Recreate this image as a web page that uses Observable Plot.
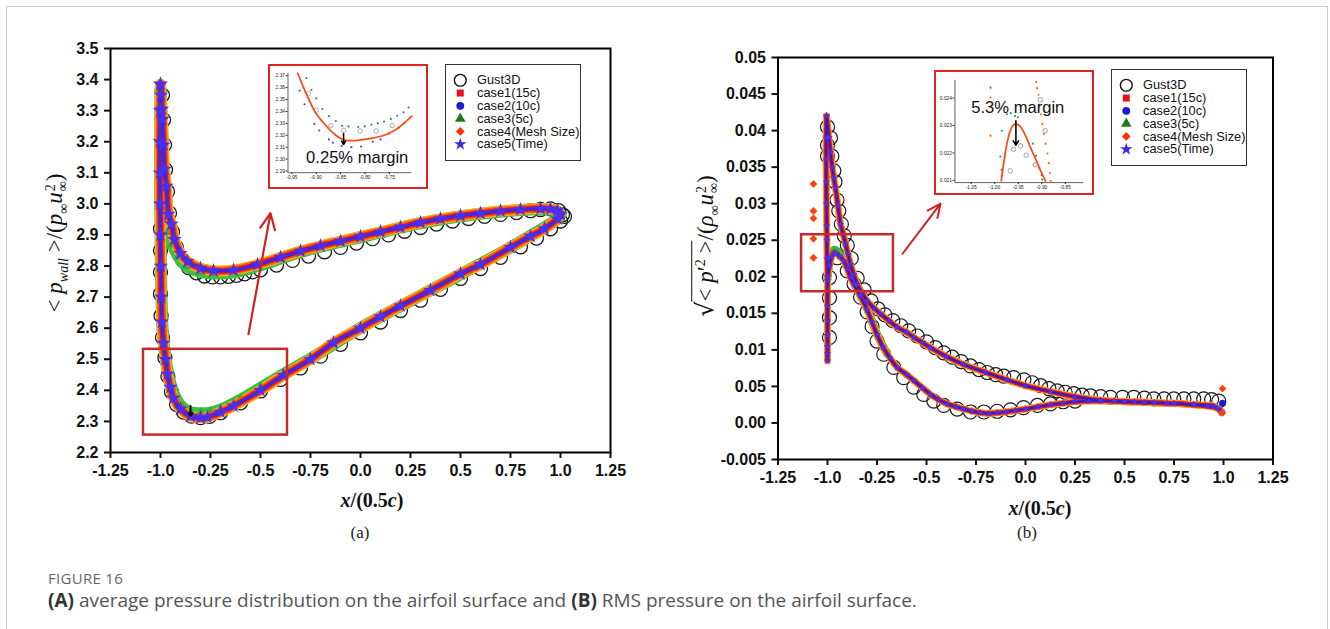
<!DOCTYPE html>
<html><head><meta charset="utf-8">
<script src="https://cdn.jsdelivr.net/npm/d3@7"></script>
<script src="https://cdn.jsdelivr.net/npm/@observablehq/plot@0.6"></script>
<style>
body{margin:0;background:#fff;}
#root{position:relative;width:1330px;height:629px;overflow:hidden;background:#fff;font-family:"Liberation Sans",Arial,sans-serif;}
.border{position:absolute;left:6px;top:6px;width:1322px;height:700px;border:1px solid #cfcfcf;box-sizing:border-box;}
.ylab{position:absolute;white-space:nowrap;transform:translate(-50%,-50%) rotate(-90deg);font-family:"Liberation Serif",serif;font-size:23px;color:#111;}
.xlab{position:absolute;white-space:nowrap;transform:translate(-50%,-50%);font-family:"Liberation Serif",serif;font-size:20px;font-weight:bold;color:#111;}
.plab{position:absolute;white-space:nowrap;transform:translate(-50%,-50%);font-family:"Liberation Serif",serif;font-size:17px;color:#222;}
.stk{display:inline-flex;flex-direction:column;vertical-align:middle;font-size:14px;line-height:12px;margin-left:1px;}
sub,sup{font-size:14px;}
.inset{position:absolute;border:2.5px solid #e02424;background:#fff;box-sizing:border-box;}
.legend{position:absolute;border:1.3px solid #333;background:#fff;box-sizing:border-box;}
.cap1{position:absolute;transform:translateY(-50%);font-family:"Open Sans",sans-serif;font-size:15px;color:#666;letter-spacing:0.3px;white-space:nowrap;}
.cap2{position:absolute;transform:translateY(-50%);font-family:"Open Sans",sans-serif;font-size:19px;color:#555;white-space:nowrap;}
.cap2 b{color:#333;}
</style></head><body><div id="root"></div>
<script>
// ---------- tick values / labels ----------
const xTicks = [-1.25,-1,-0.75,-0.5,-0.25,0,0.25,0.5,0.75,1,1.25];
const xTickLabels = ["-1.25","-1.0","-0.25","-0.5","-0.75","0.0","0.25","0.5","0.75","1.0","1.25"];
const aYTicks = [2.2,2.3,2.4,2.5,2.6,2.7,2.8,2.9,3.0,3.1,3.2,3.3,3.4,3.5];
const aYTickLabels = ["2.2","2.3","2.4","2.5","2.6","2.7","2.8","2.9","3.0","3.1","3.2","3.3","3.4","3.5"];
const bYTicks = [-0.005,0,0.005,0.01,0.015,0.02,0.025,0.03,0.035,0.04,0.045,0.05];
const bYTickLabels = ["-0.005","0.00","0.05","0.01","0.015","0.02","0.025","0.03","0.035","0.04","0.045","0.05"];

// ---------- legend ----------
const legendLabels = ["Gust3D","case1(15c)","case2(10c)","case3(5c)","case4(Mesh Size)","case5(Time)"];
const legendSymbols = ["circle","square","circle","triangle","diamond2","star"];
const legendColors = ["#111111","#e8101a","#1c1cd0","#1a7a1a","#ff3300","#3c2ee6"];

// ---------- panel (a): mean wall pressure ----------
// simulated cases 1,2,4,5 (read values; visually coincident)
const A_up_x = [-1.0,-0.997,-0.993,-0.99,-0.985,-0.98,-0.97,-0.96,-0.945,-0.93,-0.9,-0.865,-0.8,-0.735,-0.635,-0.515,-0.4,-0.3,-0.2,-0.1,0,0.1,0.2,0.3,0.4,0.5,0.6,0.7,0.8,0.9,0.95,0.985,1.0];
const A_up_y = [3.385,3.35,3.305,3.272,3.19,3.112,3.057,2.967,2.935,2.886,2.841,2.815,2.793,2.785,2.787,2.805,2.828,2.848,2.865,2.88,2.895,2.91,2.925,2.94,2.952,2.962,2.97,2.977,2.982,2.985,2.984,2.978,2.968];
const A_lo_x = [-1.0,-1.002,-1.003,-1.003,-1.002,-1.0,-0.998,-0.996,-0.993,-0.985,-0.975,-0.965,-0.95,-0.935,-0.9,-0.85,-0.8,-0.765,-0.7,-0.635,-0.5,-0.385,-0.25,-0.135,0,0.1,0.2,0.35,0.5,0.6,0.75,0.85,0.92,0.985,1.0];
const A_lo_y = [3.385,3.3,3.2,3.1,3.0,2.9,2.8,2.7,2.62,2.552,2.5,2.452,2.41,2.375,2.34,2.317,2.312,2.314,2.33,2.35,2.4,2.448,2.5,2.553,2.6,2.637,2.672,2.722,2.775,2.805,2.86,2.896,2.92,2.952,2.965];
// case3 (5c)
const A_c3_up_x = [-1.0,-0.995,-0.99,-0.985,-0.98,-0.975,-0.96,-0.94,-0.91,-0.87,-0.8,-0.735,-0.635,-0.515,-0.4,-0.3,-0.1,0.1,0.3,0.5,0.7,0.9,0.985,1.0];
const A_c3_up_y = [3.37,3.3,3.2,3.1,3.0,2.95,2.91,2.87,2.83,2.8,2.782,2.776,2.78,2.8,2.824,2.845,2.878,2.908,2.938,2.96,2.975,2.983,2.976,2.966];
const A_c3_lo_x = [-1.0,-1.002,-1.002,-1.0,-0.998,-0.995,-0.99,-0.98,-0.965,-0.945,-0.92,-0.89,-0.85,-0.8,-0.75,-0.7,-0.6,-0.5,-0.385,-0.25,0,0.35,0.75,0.985,1.0];
const A_c3_lo_y = [3.37,3.2,3.0,2.95,2.8,2.7,2.6,2.53,2.465,2.41,2.37,2.345,2.33,2.326,2.328,2.338,2.37,2.408,2.452,2.502,2.601,2.722,2.86,2.952,2.965];
// Gust3D
const A_gust_x = [-0.99,-0.985,-0.98,-0.975,-0.965,-0.955,-0.94,-0.92,-0.89,-0.86,-0.82,-0.78,-0.74,-0.7,-0.66,-0.62,-0.58,-0.54,-0.5,-0.42,-0.34,-0.26,-0.18,-0.1,-0.02,0.06,0.14,0.22,0.3,0.38,0.46,0.54,0.62,0.7,0.78,0.85,0.9,0.95,0.99,1.01,
  -1.0,-1.0,-1.0,-1.0,-0.997,-0.99,-0.978,-0.963,-0.945,-0.92,-0.885,-0.845,-0.8,-0.755,-0.7,-0.6,-0.5,-0.4,-0.3,-0.2,-0.1,0,0.1,0.2,0.3,0.4,0.5,0.6,0.7,0.8,0.88,0.95,1.0,1.02];
const A_gust_y = [3.35,3.27,3.19,3.11,3.04,2.97,2.91,2.86,2.82,2.795,2.778,2.768,2.765,2.765,2.767,2.77,2.775,2.781,2.788,2.803,2.818,2.832,2.846,2.86,2.874,2.888,2.9,2.912,2.924,2.935,2.945,2.953,2.96,2.966,2.972,2.978,2.982,2.984,2.978,2.965,
  2.92,2.85,2.78,2.71,2.64,2.57,2.505,2.445,2.395,2.355,2.33,2.317,2.312,2.316,2.328,2.36,2.398,2.435,2.472,2.51,2.548,2.585,2.62,2.657,2.69,2.725,2.76,2.792,2.828,2.862,2.89,2.92,2.945,2.96];
// annotations (a)
const A_boxX = [-1.085,-0.365], A_boxY = [2.256,2.532];
const A_arrowX = [-0.56,-0.45], A_arrowY = [2.581,2.97];
const A_markX = [-0.85,-0.85], A_markY = [2.35,2.318];

// inset (a)
const Ai_xTicks = [-0.95,-0.90,-0.85,-0.80,-0.75];
const Ai_xLabels = ["-0.95","-0.90","-0.85","-0.80","-0.75"];
const Ai_yTicks = [2.29,2.30,2.31,2.32,2.33,2.34,2.35,2.36,2.37];
const Ai_c4_x = [-0.938,-0.926,-0.914,-0.9,-0.88,-0.86,-0.843,-0.82,-0.794,-0.76,-0.734,-0.704];
const Ai_c4_y = [2.372,2.36,2.349,2.338,2.328,2.32,2.316,2.3155,2.317,2.32,2.3255,2.336];
const Ai_c3_x = [-0.92,-0.91,-0.9,-0.887,-0.874,-0.86,-0.847,-0.834,-0.814,-0.8006,-0.787,-0.774,-0.761,-0.747,-0.734,-0.721,-0.7106];
const Ai_c3_y = [2.368,2.358,2.351,2.342,2.336,2.332,2.328,2.3274,2.3269,2.3274,2.3288,2.330,2.3315,2.3337,2.3364,2.3392,2.3433];
const Ai_c5_x = [-0.934,-0.924,-0.904,-0.894,-0.874,-0.866,-0.848,-0.828,-0.808,-0.784,-0.768,-0.751,-0.731,-0.721];
const Ai_c5_y = [2.3575,2.346,2.3296,2.324,2.3165,2.3138,2.311,2.310,2.3105,2.3146,2.3165,2.3214,2.3263,2.3296];
const Ai_g_x = [-0.916,-0.9,-0.87,-0.844,-0.81,-0.777,-0.744];
const Ai_g_y = [2.3548,2.341,2.3282,2.3241,2.3236,2.3236,2.3282];
const Ai_arrowX = [-0.844,-0.844], Ai_arrowY = [2.3215,2.3122];
const Ai_textXY = [-0.816,2.3009];

// ---------- panel (b): RMS wall pressure ----------
const B_up_x = [-1.005,-0.993,-0.985,-0.976,-0.968,-0.96,-0.947,-0.934,-0.92,-0.909,-0.896,-0.884,-0.867,-0.85,-0.825,-0.8,-0.765,-0.732,-0.69,-0.648,-0.6,-0.564,-0.52,-0.48,-0.4,-0.312,-0.2,-0.092,0,0.126,0.25,0.379,0.5,0.6,0.716,0.85,0.951,0.99];
const B_up_y = [0.042,0.0391,0.037,0.035,0.0335,0.0322,0.0297,0.0272,0.0258,0.0245,0.0231,0.0217,0.0203,0.019,0.0178,0.0167,0.0157,0.0149,0.014,0.0131,0.0124,0.0117,0.011,0.0103,0.0091,0.008,0.0069,0.0059,0.0051,0.0043,0.0036,0.0031,0.0029,0.0028,0.0027,0.0025,0.0023,0.0016];
const B_col_x = [-1.005,-1.007,-1.007,-1.006,-1.005,-1.004,-1.003,-1.002,-1.0,-1.0,-1.0,-1.0,-1.0,-1.0,-1.0,-1.0];
const B_col_y = [0.042,0.039,0.036,0.033,0.03,0.027,0.025,0.0225,0.02,0.018,0.016,0.014,0.012,0.0105,0.0095,0.0085];
const B_lo_x = [-1.0,-0.99,-0.98,-0.968,-0.955,-0.94,-0.918,-0.9,-0.884,-0.867,-0.835,-0.8,-0.775,-0.75,-0.72,-0.685,-0.648,-0.6,-0.564,-0.52,-0.48,-0.44,-0.395,-0.35,-0.312,-0.27,-0.227,-0.185,-0.143,-0.1,-0.05,0,0.06,0.126,0.19,0.25,0.32,0.379,0.45,0.55,0.65,0.75,0.85,0.92,0.97,0.99];
const B_lo_y = [0.0195,0.0215,0.0227,0.0233,0.0232,0.0228,0.0222,0.0211,0.0199,0.019,0.0174,0.0155,0.0138,0.0121,0.0104,0.0089,0.0076,0.0066,0.0058,0.0048,0.0039,0.0032,0.0026,0.0022,0.0019,0.0016,0.0014,0.0013,0.0014,0.0015,0.0017,0.0019,0.0022,0.0025,0.0027,0.0029,0.003,0.003,0.003,0.0029,0.0028,0.0027,0.0025,0.0023,0.002,0.0014];
const B_c3_lo_x = [-1.0,-0.99,-0.978,-0.965,-0.95,-0.93,-0.905,-0.88,-0.85,-0.8,-0.75,-0.7];
const B_c3_lo_y = [0.0197,0.0219,0.0232,0.0237,0.0235,0.0229,0.0217,0.0201,0.0183,0.0156,0.0122,0.0095];
const B_c4_out_x = [-1.071,-1.071,-1.071,-1.071,-1.071,0.995,0.995];
const B_c4_out_y = [0.0327,0.029,0.028,0.0252,0.0226,0.0047,0.0014];
const B_c2_out_x = [0.995], B_c2_out_y = [0.0027];
const B_gust_x = [-1.0,-1.0,-1.0,-0.985,-0.978,-0.968,-0.962,-0.952,-0.943,-0.93,-0.915,-0.9,-0.99,-0.99,-0.99,-0.99,
  -0.95,-0.9,-0.866,-0.833,-0.8,-0.775,-0.75,-0.716,-0.665,-0.615,-0.564,-0.514,-0.463,-0.413,-0.345,-0.278,-0.21,-0.143,-0.076,-0.01,0.06,0.126,0.19,0.25,
  -0.88,-0.85,-0.815,-0.78,-0.745,-0.71,-0.67,-0.63,-0.59,-0.547,-0.5,-0.455,-0.413,-0.37,-0.325,-0.278,-0.235,-0.193,-0.15,-0.11,-0.06,-0.008,0.034,0.076,0.118,0.16,0.2,0.244,0.286,0.328,0.38,0.429,0.49,0.547,0.6,0.648,0.7,0.749,0.8,0.85,0.9,0.94,0.976];
const B_gust_y = [0.0405,0.038,0.0365,0.039,0.0365,0.0345,0.033,0.0305,0.029,0.0272,0.0256,0.0243,0.0199,0.0171,0.0144,0.0117,
  0.0226,0.0208,0.019,0.0172,0.0152,0.0132,0.0112,0.0094,0.0076,0.0062,0.0049,0.0039,0.003,0.0024,0.0019,0.0015,0.0015,0.0016,0.0018,0.0021,0.0024,0.0026,0.0029,0.003,
  0.0225,0.0198,0.0182,0.0167,0.0156,0.0148,0.014,0.0133,0.0126,0.0119,0.0111,0.0103,0.0096,0.009,0.0084,0.0078,0.0073,0.0069,0.0066,0.0064,0.0062,0.0059,0.0055,0.0051,0.0047,0.0044,0.0042,0.004,0.0038,0.0037,0.0036,0.0035,0.0035,0.0035,0.0034,0.0033,0.0033,0.0033,0.0033,0.0033,0.0033,0.0032,0.003];
const B_boxX = [-1.131,-0.667], B_boxY = [0.01795,0.02575];
const B_arrowX = [-0.621,-0.429], B_arrowY = [0.02315,0.030];

// inset (b)
const Bi_xTicks = [-1.05,-1.00,-0.95,-0.90,-0.85];
const Bi_xLabels = ["-1.05","-1.00","-0.95","-0.90","-0.85"];
const Bi_yTicks = [0.021,0.022,0.023,0.024];
const Bi_c4_x = [-0.986,-0.981,-0.974,-0.967,-0.962,-0.957,-0.952,-0.947,-0.936,-0.923,-0.912,-0.902,-0.892];
const Bi_c4_y = [0.02098,0.02163,0.02234,0.02281,0.02298,0.02305,0.02304,0.02299,0.02269,0.02216,0.02174,0.02133,0.02098];
const Bi_c4b_x = [-0.912,-0.910,-0.907,-0.905,-0.902,-0.899,-0.895,-0.892,-0.888,-0.885,-0.883,-0.881];
const Bi_c4b_y = [0.02459,0.02436,0.02412,0.02376,0.02341,0.02305,0.02269,0.02234,0.02198,0.02163,0.02127,0.02098];
const Bi_c3_x = [-1.009,-0.974,-0.966,-0.957,-0.951,-0.985,-0.988,-0.919,-0.912,-0.905,-0.899];
const Bi_c3_y = [0.02438,0.02341,0.02345,0.02335,0.0233,0.02281,0.02187,0.02234,0.0219,0.02145,0.02103];
const Bi_c4o_x = [-1.009,-1.009], Bi_c4o_y = [0.02402,0.02263];
const Bi_c5_x = [-0.985,-0.985,-0.9], Bi_c5_y = [0.02139,0.02117,0.0212];
const Bi_g_x = [-0.967,-0.96,-0.945,-0.933,-0.914,-0.903,-0.893];
const Bi_g_y = [0.02135,0.02213,0.02226,0.02192,0.02157,0.02394,0.02281];
const Bi_arrowX = [-0.955,-0.955], Bi_arrowY = [0.02317,0.02228];
const Bi_textXY = [-0.951,0.02364];

// ---------- helpers ----------
const pts = (xs, ys) => xs.map((x, i) => ({x, y: ys[i]}));
const fmt = (ticks, labels) => d => { const i = ticks.findIndex(t => Math.abs(t - d) < 1e-9); return i < 0 ? "" : labels[i]; };
const root = document.getElementById("root");
function place(el, left, top) { el.style.position = "absolute"; el.style.left = left + "px"; el.style.top = top + "px"; root.appendChild(el); return el; }
function html(cls, left, top, inner) { const d = document.createElement("div"); d.className = cls; d.style.left = left + "px"; d.style.top = top + "px"; d.innerHTML = inner; root.appendChild(d); return d; }

const axisStyle = {fontFamily: "'Liberation Sans', Arial, sans-serif", fontSize: "16px", fontWeight: "bold", color: "#111", background: "transparent", overflow: "visible"};

function bandMarks(branches, c3branches, w, extra) {
  const marks = [];
  for (const b of c3branches) marks.push(Plot.line(b, {x: "x", y: "y", stroke: "#3cc040", strokeWidth: w + 1, curve: "catmull-rom"}));
  for (const b of branches) marks.push(Plot.line(b, {x: "x", y: "y", stroke: extra.halo, strokeWidth: w, curve: "catmull-rom"}));
  for (const b of c3branches) marks.push(Plot.dot(b, {x: "x", y: "y", symbol: "triangle", fill: "#2fae35", r: w * 0.36}));
  for (const b of branches) marks.push(Plot.line(b, {x: "x", y: "y", stroke: "#ff5a14", strokeWidth: w - 2.5, curve: "catmull-rom"}));
  for (const b of branches) marks.push(Plot.dot(b, {x: "x", y: "y", symbol: "diamond2", fill: "#ff5010", r: w * 0.42}));
  for (const b of branches) marks.push(Plot.line(b, {x: "x", y: "y", stroke: "#e3141c", strokeWidth: w * extra.red, curve: "catmull-rom"}));
  for (const b of branches) marks.push(Plot.dot(b, {x: "x", y: "y", symbol: "square", fill: "#e3141c", r: w * 0.22}));
  for (const b of branches) marks.push(Plot.line(b, {x: "x", y: "y", stroke: extra.blue, strokeWidth: w * extra.blueW, curve: "catmull-rom"}));
  for (const b of branches) marks.push(Plot.dot(b, {x: "x", y: "y", fill: "#1c1cd0", r: w * 0.24}));
  for (const b of branches) marks.push(Plot.dot(b, {x: "x", y: "y", symbol: "star", fill: "#4a30ee", r: w * extra.star}));
  return marks;
}

// ---------- border ----------
const bd = document.createElement("div"); bd.className = "border"; root.appendChild(bd);

// ---------- panel (a) ----------
const A_up = pts(A_up_x, A_up_y), A_lo = pts(A_lo_x, A_lo_y);
const A_c3 = [pts(A_c3_up_x, A_c3_up_y), pts(A_c3_lo_x, A_c3_lo_y)];
const plotA = Plot.plot({
  width: 640, height: 480, marginLeft: 110, marginRight: 30, marginTop: 48, marginBottom: 28,
  style: axisStyle,
  x: {domain: [-1.25, 1.25]}, y: {domain: [2.2, 3.5]},
  marks: [
    Plot.dot(pts(A_gust_x, A_gust_y), {x: "x", y: "y", r: 7, stroke: "#1a1a1a", strokeWidth: 1.3, fill: "none"}),
    ...bandMarks([A_up, A_lo], A_c3, 11, {halo: "#ffae1a", blue: "#3a2ae8", blueW: 0.3, red: 0.5, star: 0.42}),
    Plot.arrow([{}], {x1: () => A_markX[0], x2: () => A_markX[1], y1: () => A_markY[0], y2: () => A_markY[1], stroke: "#111", strokeWidth: 2, headLength: 6, headAngle: 70}),
    Plot.rect([{}], {x1: () => A_boxX[0], x2: () => A_boxX[1], y1: () => A_boxY[0], y2: () => A_boxY[1], fill: "none", stroke: "#c62a2a", strokeWidth: 2.5}),
    Plot.arrow([{}], {x1: () => A_arrowX[0], x2: () => A_arrowX[1], y1: () => A_arrowY[0], y2: () => A_arrowY[1], stroke: "#d42020", strokeWidth: 2.2, headLength: 12, headAngle: 50}),
    Plot.frame({stroke: "#000", strokeWidth: 2}),
    Plot.axisX(xTicks, {tickFormat: fmt(xTicks, xTickLabels), tickSize: 6, tickPadding: 6, strokeWidth: 2, label: null}),
    Plot.axisY(aYTicks, {tickFormat: fmt(aYTicks, aYTickLabels), tickSize: 6, tickPadding: 6, strokeWidth: 2, label: null})
  ]
});
place(plotA, 0, 0);

// ---------- panel (b) ----------
const B_up = pts(B_up_x, B_up_y), B_col = pts(B_col_x, B_col_y), B_lo = pts(B_lo_x, B_lo_y);
const plotB = Plot.plot({
  width: 640, height: 487, marginLeft: 117.5, marginRight: 27.5, marginTop: 57, marginBottom: 28,
  style: axisStyle,
  x: {domain: [-1.25, 1.25]}, y: {domain: [-0.005, 0.05]},
  marks: [
    Plot.dot(pts(B_gust_x, B_gust_y), {x: "x", y: "y", r: 7, stroke: "#1a1a1a", strokeWidth: 1.2, fill: "none"}),
    ...bandMarks([B_up, B_col, B_lo], [pts(B_c3_lo_x, B_c3_lo_y)], 7, {halo: "#ff9a24", blue: "#2020d8", blueW: 0.3, red: 0.65, star: 0.34}),
    Plot.dot(pts(B_c4_out_x, B_c4_out_y), {x: "x", y: "y", symbol: "diamond2", fill: "#ff4010", r: 3.5}),
    Plot.dot(pts(B_c2_out_x, B_c2_out_y), {x: "x", y: "y", fill: "#1c1cd0", r: 3.5}),
    Plot.rect([{}], {x1: () => B_boxX[0], x2: () => B_boxX[1], y1: () => B_boxY[0], y2: () => B_boxY[1], fill: "none", stroke: "#c62a2a", strokeWidth: 2.5}),
    Plot.arrow([{}], {x1: () => B_arrowX[0], x2: () => B_arrowX[1], y1: () => B_arrowY[0], y2: () => B_arrowY[1], stroke: "#d42020", strokeWidth: 2, headLength: 11, headAngle: 50}),
    Plot.frame({stroke: "#000", strokeWidth: 2}),
    Plot.axisX(xTicks, {tickFormat: fmt(xTicks, xTickLabels), tickSize: 6, tickPadding: 6, strokeWidth: 2, label: null}),
    Plot.axisY(bYTicks, {tickFormat: fmt(bYTicks, bYTickLabels), tickSize: 6, tickPadding: 6, strokeWidth: 2, label: null})
  ]
});
place(plotB, 660, 0);

// ---------- insets ----------
const insetStyle = {fontFamily: "'Liberation Sans', Arial, sans-serif", fontSize: "5px", color: "#222", background: "transparent", overflow: "visible"};
function insetBox(left, top, plot) {
  const box = document.createElement("div"); box.className = "inset";
  box.style.left = left + "px"; box.style.top = top + "px"; box.style.width = "160px"; box.style.height = "125px";
  plot.style.position = "absolute"; plot.style.left = "-2.5px"; plot.style.top = "-2.5px";
  box.appendChild(plot); root.appendChild(box);
}
const insetA = Plot.plot({
  width: 160, height: 125, marginLeft: 20, marginRight: 13, marginTop: 9, marginBottom: 14,
  style: insetStyle,
  x: {domain: [-0.958, -0.704]}, y: {domain: [2.2886, 2.372]},
  marks: [
    Plot.ruleX([-0.958], {stroke: "#333", strokeWidth: 0.8}),
    Plot.ruleY([2.2886], {stroke: "#333", strokeWidth: 0.8}),
    Plot.axisX(Ai_xTicks, {tickFormat: fmt(Ai_xTicks, Ai_xLabels), tickSize: 2, tickPadding: 1, label: null}),
    Plot.axisY(Ai_yTicks, {tickFormat: d => d.toFixed(2), tickSize: 2, tickPadding: 1, label: null}),
    Plot.dot(pts(Ai_g_x, Ai_g_y), {x: "x", y: "y", r: 2.3, stroke: "#999", strokeWidth: 0.8, fill: "none"}),
    Plot.dot(pts(Ai_c3_x, Ai_c3_y), {x: "x", y: "y", r: 1.1, fill: "#2a8a5a"}),
    Plot.dot(pts(Ai_c5_x, Ai_c5_y), {x: "x", y: "y", r: 1.1, fill: "#6a3ac0"}),
    Plot.line(pts(Ai_c4_x, Ai_c4_y), {x: "x", y: "y", stroke: "#ff4a10", strokeWidth: 1.8, curve: "catmull-rom"}),
    Plot.arrow([{}], {x1: () => Ai_arrowX[0], x2: () => Ai_arrowX[1], y1: () => Ai_arrowY[0], y2: () => Ai_arrowY[1], stroke: "#000", strokeWidth: 1.6, headLength: 5, headAngle: 60}),
    Plot.text(["0.25% margin"], {x: () => Ai_textXY[0], y: () => Ai_textXY[1], text: d => d, fontSize: 17, fill: "#111", fontFamily: "'Liberation Sans', Arial, sans-serif"})
  ]
});
insetBox(268, 64, insetA);

const insetB = Plot.plot({
  width: 160, height: 125, marginLeft: 21, marginRight: 7, marginTop: 10, marginBottom: 10,
  style: insetStyle,
  x: {domain: [-1.0845, -0.811]}, y: {domain: [0.02092, 0.02465]},
  marks: [
    Plot.ruleX([-1.0845], {stroke: "#333", strokeWidth: 0.8}),
    Plot.ruleY([0.02092], {stroke: "#333", strokeWidth: 0.8}),
    Plot.axisX(Bi_xTicks, {tickFormat: fmt(Bi_xTicks, Bi_xLabels), tickSize: 2, tickPadding: 1, label: null}),
    Plot.axisY(Bi_yTicks, {tickFormat: d => d.toFixed(3), tickSize: 2, tickPadding: 1, label: null}),
    Plot.dot(pts(Bi_g_x, Bi_g_y), {x: "x", y: "y", r: 2.3, stroke: "#888", strokeWidth: 0.8, fill: "none"}),
    Plot.dot(pts(Bi_c3_x, Bi_c3_y), {x: "x", y: "y", r: 1.1, fill: "#2a9a5a"}),
    Plot.dot(pts(Bi_c5_x, Bi_c5_y), {x: "x", y: "y", r: 1.1, fill: "#5a2ad0"}),
    Plot.dot(pts(Bi_c4o_x, Bi_c4o_y), {x: "x", y: "y", r: 1.1, fill: "#ff5a10"}),
    Plot.line(pts(Bi_c4_x, Bi_c4_y), {x: "x", y: "y", stroke: "#ff4a10", strokeWidth: 1.8, curve: "catmull-rom"}),
    Plot.dot(pts(Bi_c4b_x, Bi_c4b_y), {x: "x", y: "y", r: 1.1, fill: "#ff6a10"}),
    Plot.arrow([{}], {x1: () => Bi_arrowX[0], x2: () => Bi_arrowX[1], y1: () => Bi_arrowY[0], y2: () => Bi_arrowY[1], stroke: "#000", strokeWidth: 1.6, headLength: 5, headAngle: 60}),
    Plot.text(["5.3% margin"], {x: () => Bi_textXY[0], y: () => Bi_textXY[1], text: d => d, fontSize: 17, fill: "#111", fontFamily: "'Liberation Sans', Arial, sans-serif"})
  ]
});
insetBox(934, 70, insetB);

// ---------- legends ----------
function legend(left, top) {
  const box = document.createElement("div"); box.className = "legend";
  box.style.left = left + "px"; box.style.top = top + "px"; box.style.width = "136px"; box.style.height = "97px";
  const p = Plot.plot({
    width: 136, height: 97, margin: 0,
    style: {fontFamily: "'Liberation Sans', Arial, sans-serif", fontSize: "13px", color: "#111", background: "transparent", overflow: "visible"},
    y: {type: "point", domain: legendLabels, range: [8, 88], axis: null},
    marks: [
      ...legendLabels.map((lab, i) => Plot.dot([lab], {y: d => d, frameAnchor: "left", dx: 15, symbol: legendSymbols[i],
        fill: i === 0 ? "none" : legendColors[i], stroke: i === 0 ? legendColors[i] : "none", strokeWidth: 1.4, r: i === 0 ? 6 : 4})),
      Plot.text(legendLabels, {y: d => d, text: d => d, frameAnchor: "left", dx: 32, textAnchor: "start", fill: "#111"})
    ]
  });
  p.style.position = "absolute"; p.style.left = "-1px"; p.style.top = "-1px";
  box.appendChild(p); root.appendChild(box);
}
legend(445, 64);
legend(1111, 69);

// ---------- axis titles ----------
html("ylab", 57, 243, '&lt; <i>p</i><sub><i>wall</i></sub> &gt;/(<i>p</i><sub>∞</sub><i>u</i><span class="stk"><span>2</span><span>∞</span></span>)');
html("ylab", 707, 246, '<span style="font-family:\'DejaVu Sans\';font-size:24px">√</span><span style="border-top:1.5px solid #111;padding-top:1px">&lt; <i>p</i>′<sup>2</sup> &gt;</span>/(<i>ρ</i><sub>∞</sub><i>u</i><span class="stk"><span>2</span><span>∞</span></span>)');
html("xlab", 372, 500, '<i>x</i>/(0.5<i>c</i>)');
html("xlab", 1040, 508, '<i>x</i>/(0.5<i>c</i>)');
html("plab", 360, 533, '(a)');
html("plab", 1027, 533, '(b)');

// ---------- caption ----------
html("cap1", 48, 578, 'FIGURE 16');
html("cap2", 48, 600, '<b>(A)</b> average pressure distribution on the airfoil surface and <b>(B)</b> RMS pressure on the airfoil surface.');
</script></body></html>
